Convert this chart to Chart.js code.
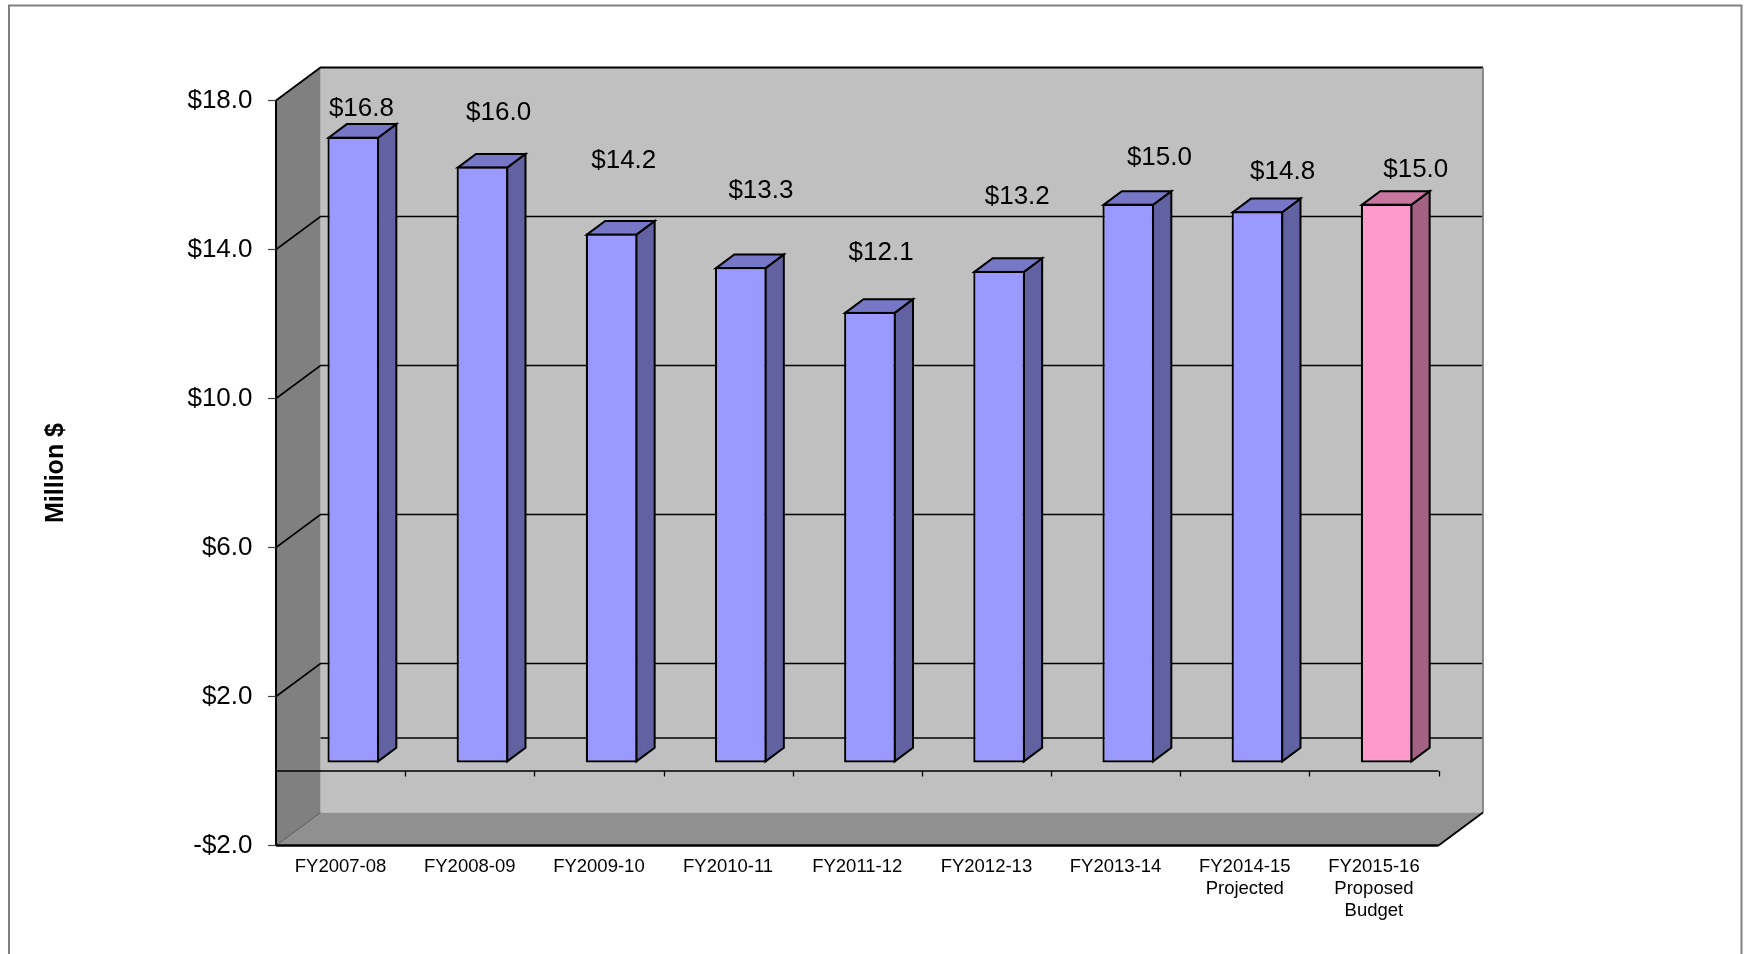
<!DOCTYPE html>
<html>
<head>
<meta charset="utf-8">
<title>Million $ by fiscal year</title>
<script src="https://cdn.jsdelivr.net/npm/chart.js@4/dist/chart.umd.min.js"></script>
<style>
  html, body { margin: 0; padding: 0; background: #ffffff; }
  canvas { display: block; }
</style>
</head>
<body>
<canvas id="chart" width="1745" height="954"></canvas>
<script>
// ---- data ----
const categories = [
  'FY2007-08', 'FY2008-09', 'FY2009-10', 'FY2010-11', 'FY2011-12',
  'FY2012-13', 'FY2013-14', ['FY2014-15', 'Projected'], ['FY2015-16', 'Proposed', 'Budget']
];
const amounts = [16.8, 16.0, 14.2, 13.3, 12.1, 13.2, 15.0, 14.8, 15.0];
const yTickValues = [-2, 2, 6, 10, 14, 18];
const yAxisTitle = 'Million $';

// ---- look ----
const FONT = '"Liberation Sans", Arial, Helvetica, sans-serif';
const BAR_BLUE = '#9999FF';
const BAR_PINK = '#FF99CC';
const WALL_BACK = '#C0C0C0';
const WALL_SIDE = '#808080';
const FLOOR = '#909090';

// depth of the 3-D box and of each column (px along the receding axis)
const BOX_DEPTH = { dx: 44.5, dy: -33 };
const BAR_SHIFT = { dx: 12.7, dy: -8.5 };
const BAR_DEPTH = { dx: 18.3, dy: -13.7 };
// small nudges of the value labels away from the top of each column
const LABEL_NUDGE = [[-1, -21], [7, -47], [3, -66], [11, -69], [2, -52], [9, -67], [22, -39], [16, -33], [20, -27]];

const barColors = amounts.map((v, i) => (i === amounts.length - 1 ? BAR_PINK : BAR_BLUE));

function shade(hex, f) {
  const n = parseInt(hex.slice(1), 16);
  const r = Math.round(((n >> 16) & 255) * f);
  const g = Math.round(((n >> 8) & 255) * f);
  const b = Math.round((n & 255) * f);
  return `rgb(${r},${g},${b})`;
}

function poly(ctx, pts) {
  ctx.beginPath();
  ctx.moveTo(pts[0][0], pts[0][1]);
  for (let i = 1; i < pts.length; i++) ctx.lineTo(pts[i][0], pts[i][1]);
  ctx.closePath();
}

function line(ctx, pts, color, width) {
  ctx.beginPath();
  ctx.moveTo(pts[0][0], pts[0][1]);
  for (let i = 1; i < pts.length; i++) ctx.lineTo(pts[i][0], pts[i][1]);
  ctx.strokeStyle = color;
  ctx.lineWidth = width;
  ctx.stroke();
}

const formatMoney = v => (v < 0 ? '-$' : '$') + Math.abs(v).toFixed(1);

// walls, floor, gridlines and the zero axis of the 3-D box
const boxPlugin = {
  id: 'box3d',
  beforeDraw(chart) {
    const ctx = chart.ctx;
    const { left: L, right: R, top: T, bottom: B } = chart.chartArea;
    const ys = chart.scales.y;
    const xs = chart.scales.x;
    const dx = BOX_DEPTH.dx, dy = BOX_DEPTH.dy;
    ctx.save();

    // frame round the whole chart
    ctx.strokeStyle = '#808080';
    ctx.lineWidth = 2;
    ctx.strokeRect(9, 5.5, 1732.5, 1000);

    // back wall, side wall, floor
    ctx.fillStyle = WALL_BACK;
    ctx.fillRect(L + dx, T + dy, R - L, B - T);
    ctx.fillStyle = WALL_SIDE;
    poly(ctx, [[L, T], [L + dx, T + dy], [L + dx, B + dy], [L, B]]);
    ctx.fill();
    ctx.fillStyle = FLOOR;
    poly(ctx, [[L, B], [L + dx, B + dy], [R + dx, B + dy], [R, B]]);
    ctx.fill();

    // value gridlines, running over the side wall and along the back wall
    yTickValues.forEach(v => {
      if (v <= ys.min || v >= ys.max) return;
      const p = ys.getPixelForValue(v);
      line(ctx, [[L, p], [L + dx, p + dy], [R + dx, p + dy]], '#000', 1.6);
    });
    const p0 = ys.getPixelForValue(0);
    line(ctx, [[L + dx, p0 + dy], [R + dx, p0 + dy]], '#000', 1.6);

    // box edges
    line(ctx, [[L, T], [L + dx, T + dy], [R + dx, T + dy]], '#000', 1.8);
    line(ctx, [[R + dx, T + dy], [R + dx, B + dy]], '#808080', 1.8);
    line(ctx, [[L, B], [L + dx, B + dy]], '#555', 1);
    line(ctx, [[L, T], [L, B]], '#000', 2);
    line(ctx, [[R, B], [R + dx, B + dy]], '#000', 1.8);
    line(ctx, [[L, B], [R, B]], '#000', 2.6);

    // category axis at zero with its tick marks
    line(ctx, [[L, p0], [R, p0]], '#000', 1.7);
    for (let k = 1; k <= categories.length; k++) {
      const bx = Math.round(xs.getPixelForValue(k - 0.5)) + 0.5;
      line(ctx, [[bx, p0], [bx, p0 + 5.5]], '#000', 1.3);
    }
    ctx.restore();
  },
  // side and top faces of the columns; the front faces are the dataset's bars
  beforeDatasetsDraw(chart) {
    const ctx = chart.ctx;
    ctx.save();
    ctx.translate(BAR_SHIFT.dx, BAR_SHIFT.dy);
    const meta = chart.getDatasetMeta(0);
    const bw = 2.2;
    meta.data.forEach((bar, i) => {
      const { x, y, base, width } = bar.getProps(['x', 'y', 'base', 'width'], true);
      const l = x - width / 2 + bw / 2;
      const r = x + width / 2 - bw / 2;
      const t = Math.min(y, base) + bw / 2;
      const b = Math.max(y, base) - bw / 2;
      const ddx = BAR_DEPTH.dx, ddy = BAR_DEPTH.dy;
      ctx.lineJoin = 'miter';
      ctx.lineWidth = 2;
      ctx.strokeStyle = '#000';
      ctx.fillStyle = shade(barColors[i], 0.64);
      poly(ctx, [[r, t], [r + ddx, t + ddy], [r + ddx, b + ddy], [r, b]]);
      ctx.fill();
      ctx.stroke();
      ctx.fillStyle = shade(barColors[i], 0.78);
      poly(ctx, [[l, t], [l + ddx, t + ddy], [r + ddx, t + ddy], [r, t]]);
      ctx.fill();
      ctx.stroke();
    });
  },
  afterDatasetsDraw(chart) {
    const ctx = chart.ctx;
    ctx.restore();
    // value labels above the columns
    ctx.save();
    ctx.font = `26px ${FONT}`;
    ctx.fillStyle = '#000';
    ctx.textAlign = 'center';
    ctx.textBaseline = 'middle';
    const meta = chart.getDatasetMeta(0);
    meta.data.forEach((bar, i) => {
      const { x, y } = bar.getProps(['x', 'y'], true);
      const n = LABEL_NUDGE[i] || [0, -40];
      const lx = x + BAR_SHIFT.dx + BAR_DEPTH.dx / 2 + n[0];
      const ly = y + BAR_SHIFT.dy + BAR_DEPTH.dy / 2 + n[1];
      ctx.fillText(formatMoney(amounts[i]), lx, ly);
    });
    ctx.restore();
  }
};

Chart.defaults.font.family = FONT;
Chart.defaults.color = '#000';

new Chart(document.getElementById('chart'), {
  type: 'bar',
  data: {
    labels: categories,
    datasets: [{
      data: amounts,
      backgroundColor: barColors,
      borderColor: '#000',
      borderWidth: 2.2,
      borderSkipped: false,
      barPercentage: 0.4,
      categoryPercentage: 1.0
    }]
  },
  options: {
    responsive: false,
    devicePixelRatio: 1,
    animation: false,
    events: [],
    layout: { padding: { left: 10, right: 306.5, top: 100.5, bottom: 0 } },
    plugins: {
      legend: { display: false },
      tooltip: { enabled: false }
    },
    scales: {
      x: {
        type: 'category',
        grid: { display: false, drawTicks: false },
        border: { display: false },
        ticks: {
          font: { size: 18.5, lineHeight: 1.17 },
          color: '#000',
          padding: 11,
          maxRotation: 0,
          minRotation: 0,
          autoSkip: false
        },
        afterFit(scale) { scale.height = 108.5; }
      },
      y: {
        type: 'linear',
        min: -2,
        max: 18,
        afterBuildTicks(scale) { scale.ticks = yTickValues.map(v => ({ value: v })); },
        ticks: {
          callback: v => formatMoney(v),
          font: { size: 26 },
          color: '#000',
          padding: 15.5
        },
        grid: {
          display: true,
          drawOnChartArea: false,
          drawTicks: true,
          tickLength: 8,
          tickColor: '#404040',
          tickWidth: 1.2
        },
        border: { display: false },
        title: {
          display: true,
          text: yAxisTitle,
          color: '#000',
          font: { size: 25, weight: 'bold' },
          padding: { top: 31, bottom: 0 }
        },
        afterFit(scale) { scale.width = 266; }
      }
    }
  },
  plugins: [boxPlugin]
});
</script>
</body>
</html>
